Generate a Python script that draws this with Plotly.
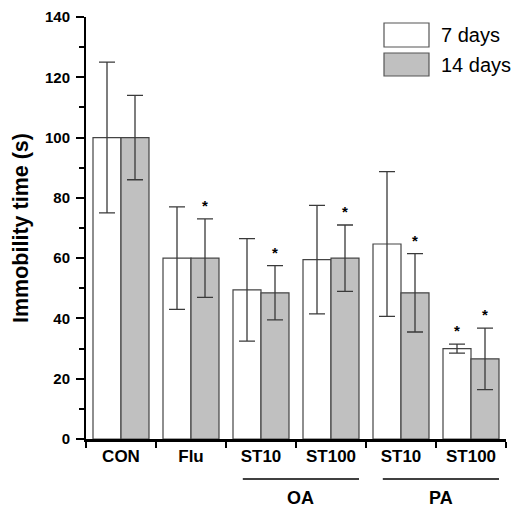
import plotly.graph_objects as go

categories = ["CON", "Flu", "ST10", "ST100", "ST10", "ST100"]
days7_mean = [100, 60, 49.5, 59.5, 64.7, 30]
days7_err = [25, 17, 17, 18, 24, 1.5]
days14_mean = [100, 60, 48.5, 60, 48.5, 26.6]
days14_err = [14, 13, 9, 11, 13, 10.2]
days7_sig = [False, False, False, False, False, True]
days14_sig = [False, True, True, True, True, True]
groups = [("OA", 2, 3), ("PA", 4, 5)]
yticks = [0, 20, 40, 60, 80, 100, 120, 140]
legend_labels = ["7 days", "14 days"]

FONT = "Liberation Sans, Arial, sans-serif"
xs = list(range(len(categories)))

fig = go.Figure()
fig.add_trace(go.Bar(
    x=xs, y=days7_mean, name=legend_labels[0],
    marker=dict(color="white", line=dict(color="#444444", width=1.2)),
    error_y=dict(type="data", array=days7_err, visible=True, color="#3a3a3a", thickness=1.3, width=8),
    offsetgroup="a",
))
fig.add_trace(go.Bar(
    x=xs, y=days14_mean, name=legend_labels[1],
    marker=dict(color="#c0c0c0", line=dict(color="#444444", width=1.2)),
    error_y=dict(type="data", array=days14_err, visible=True, color="#3a3a3a", thickness=1.3, width=8),
    offsetgroup="b",
))

annotations = []
for means, errs, sigs, off in [(days7_mean, days7_err, days7_sig, -0.2), (days14_mean, days14_err, days14_sig, 0.2)]:
    for i, (m, e, s) in enumerate(zip(means, errs, sigs)):
        if s:
            annotations.append(dict(x=i + off, y=m + e, xref="x", yref="y", text="<b>*</b>",
                                    showarrow=False, yanchor="bottom", yshift=3,
                                    font=dict(family=FONT, size=15, color="black")))

shapes = []
for name, i0, i1 in groups:
    x0 = i0 - 0.26
    x1 = i1 + 0.40
    shapes.append(dict(type="line", xref="x", yref="paper", x0=x0, x1=x1, y0=-0.095, y1=-0.095,
                       line=dict(color="black", width=1.5)))
    annotations.append(dict(x=(x0 + x1) / 2, y=-0.14, xref="x", yref="paper", text="<b>%s</b>" % name,
                            showarrow=False, yanchor="middle", xanchor="center",
                            font=dict(family=FONT, size=18, color="black")))

# manual legend
leg_y = [(23, 47), (53, 76)]
fills = ["white", "#c0c0c0"]
for (t, b), fcol, lab in zip(leg_y, fills, legend_labels):
    shapes.append(dict(type="rect", xref="paper", yref="paper",
                       x0=(384 - 86) / 420, x1=(429 - 86) / 420,
                       y0=(439 - b) / 422, y1=(439 - t) / 422,
                       fillcolor=fcol, line=dict(color="#555555", width=1.2)))
    annotations.append(dict(x=(439 - 86) / 420, y=(439 - (t + b) / 2) / 422, xref="paper", yref="paper",
                            text=lab, showarrow=False, xanchor="left", yanchor="middle",
                            font=dict(family=FONT, size=20, color="black")))

fig.update_layout(
    width=517, height=508,
    margin=dict(l=86, r=11, t=17, b=69, autoexpand=False),
    paper_bgcolor="white", plot_bgcolor="white",
    barmode="group", bargap=0.2, bargroupgap=0,
    showlegend=False,
    font=dict(family=FONT, color="black"),
    annotations=annotations,
    shapes=shapes,
    xaxis=dict(
        range=[-0.5, 5.5], tickmode="array", tickvals=xs,
        ticktext=["<b>%s</b>" % c for c in categories],
        tickfont=dict(family=FONT, size=17, color="black"),
        ticks="", showgrid=False, zeroline=False, automargin=False,
        showline=True, linecolor="black", linewidth=2.5,
        minor=dict(ticks="outside", tickmode="linear", tick0=-0.5, dtick=1, ticklen=6,
                   tickwidth=1.5, tickcolor="black", showgrid=False),
    ),
    yaxis=dict(
        range=[0, 140], tickmode="array", tickvals=yticks,
        ticktext=["<b>%d</b>" % v for v in yticks],
        tickfont=dict(family=FONT, size=15, color="black"),
        ticks="outside", ticklen=8, tickwidth=1.5, tickcolor="black",
        ticklabelstandoff=3,
        showgrid=False, zeroline=False, automargin=False,
        showline=True, linecolor="black", linewidth=2,
        minor=dict(ticks="outside", tickmode="linear", tick0=0, dtick=10, ticklen=5,
                   tickwidth=1.5, tickcolor="black", showgrid=False),
        title=dict(text="<b>Immobility time (s)</b>", font=dict(family=FONT, size=21.5, color="black"), standoff=10),
    ),
)

fig.write_html("out.html", config={"displayModeBar": False},
               post_script="document.body.style.margin='0';document.body.style.overflow='hidden';")
